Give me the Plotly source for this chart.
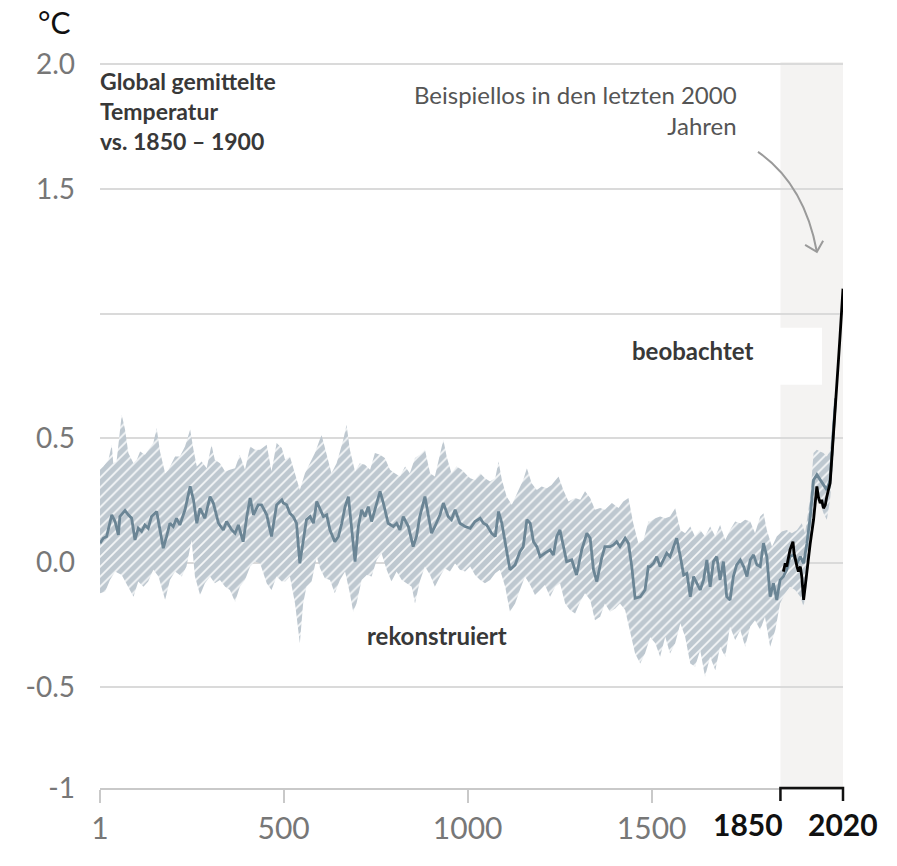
import plotly.graph_objects as go

# ---------------- data ----------------
mean_years = [1, 10, 19, 33, 42, 51, 55, 69, 78, 87, 96, 105, 114, 123, 132, 141, 155, 164, 173, 182,
              191, 200, 209, 218, 232, 246, 255, 264, 273, 286, 300, 309, 323, 336, 345, 359, 368, 377, 390, 400,
              409, 418, 431, 440, 454, 467, 481, 495,
              499, 508, 517, 526, 535, 544, 553, 562, 572, 581, 590, 599, 608, 617, 626, 639, 649, 658, 667, 676,
              685, 694, 703, 712, 721, 730, 739, 753, 762, 771, 784, 798, 807, 816, 825, 839, 852, 861, 870, 884,
              893, 902, 911, 925, 934, 947, 956, 966, 979, 993,
              1007, 1020, 1034, 1043, 1052, 1065, 1075, 1084, 1093, 1102, 1115, 1129, 1142, 1151, 1161, 1170, 1179,
              1188, 1197, 1210, 1224, 1233, 1242, 1251, 1260, 1269, 1283, 1296, 1310, 1324, 1333, 1342, 1351, 1364,
              1373, 1387, 1396, 1405, 1414, 1428, 1437, 1446, 1455, 1469, 1482, 1491,
              1496, 1505, 1514, 1523, 1532, 1541, 1550, 1559, 1568, 1578, 1587, 1596, 1605, 1614, 1623, 1632, 1641,
              1650, 1659, 1668, 1677, 1686, 1695, 1704, 1713, 1722, 1731, 1741, 1750, 1759, 1768, 1777, 1786, 1795,
              1804, 1813, 1822, 1831, 1840, 1849, 1858, 1867, 1876, 1885, 1895, 1904, 1913, 1922, 1931, 1940, 1949,
              1958, 1967, 1976, 1985, 1994, 2000]
mean_vals = [0.078, 0.098, 0.105, 0.192, 0.165, 0.111, 0.185, 0.209, 0.192, 0.178, 0.091, 0.138, 0.125, 0.151,
             0.138, 0.185, 0.205, 0.131, 0.058, 0.105, 0.158, 0.145, 0.178, 0.151, 0.212, 0.306, 0.252, 0.158,
             0.218, 0.178, 0.265, 0.239, 0.158, 0.131, 0.165, 0.131, 0.118, 0.151, 0.084, 0.185, 0.259, 0.192,
             0.232, 0.232, 0.192, 0.105, 0.232, 0.252,
             0.239, 0.232, 0.198, 0.185, 0.158, -0.003, 0.091, 0.172, 0.185, 0.158, 0.245, 0.212, 0.185, 0.192,
             0.131, 0.084, 0.105, 0.158, 0.225, 0.265, 0.131, 0.004, 0.145, 0.212, 0.185, 0.225, 0.165, 0.239,
             0.286, 0.239, 0.158, 0.145, 0.158, 0.131, 0.185, 0.145, 0.064, 0.105, 0.185, 0.265, 0.198, 0.118,
             0.145, 0.192, 0.239, 0.185, 0.172, 0.212, 0.158, 0.145,
             0.138, 0.165, 0.178, 0.158, 0.151, 0.118, 0.105, 0.205, 0.158, 0.078, -0.029, -0.009, 0.044, 0.064,
             0.172, 0.158, 0.084, 0.064, 0.024, 0.038, 0.051, 0.031, 0.105, 0.131, 0.064, 0.004, 0.011, -0.050,
             0.051, 0.118, 0.098, -0.029, -0.076, 0.017, 0.064, 0.064, 0.071, 0.084, 0.064, 0.098, 0.078, -0.016,
             -0.143, -0.137, -0.110, -0.016,
             -0.016, -0.003, 0.024, -0.016, 0.011, 0.038, 0.024, 0.064, 0.098, 0.024, -0.050, -0.043, -0.137,
             -0.056, -0.083, -0.110, -0.070, 0.011, -0.097, 0.004, 0.024, -0.070, 0.004, -0.137, -0.150, -0.056,
             -0.009, 0.011, -0.016, -0.056, 0.011, 0.031, -0.009, -0.016, 0.078, 0.024, -0.137, -0.083, -0.150,
             -0.070, -0.056, -0.029, 0.024, 0.031, -0.003, 0.024, -0.003, 0.078, 0.185, 0.332, 0.353, 0.332,
             0.312, 0.292, 0.332, 0.534, 0.66]

upper_years = [1, 10, 24, 33, 37, 46, 60, 69, 78, 92, 101, 110, 123, 132, 146, 155, 164, 178, 187, 205, 218,
               232, 246, 255, 264, 277, 291, 304, 313, 327, 341, 354, 368, 381, 395, 409, 422, 436, 454, 467,
               481, 495,
               504, 517, 531, 544, 558, 572, 585, 603, 617, 630, 644, 662, 671, 680, 694, 707, 721, 735, 748,
               762, 775, 789, 802, 816, 830, 843, 857, 870, 884, 898, 911, 925, 934, 943, 956, 970, 984, 997,
               1007, 1020, 1034, 1047, 1061, 1075, 1084, 1093, 1106, 1120, 1138, 1151, 1161, 1174, 1188, 1201,
               1215, 1228, 1247, 1260, 1274, 1292, 1306, 1319, 1333, 1346, 1360, 1373, 1392, 1410, 1423, 1437,
               1450, 1464, 1478, 1491,
               1496, 1510, 1523, 1537, 1550, 1564, 1578, 1591, 1605, 1618, 1632, 1645, 1659, 1673, 1686, 1700,
               1713, 1727, 1741, 1754, 1768, 1781, 1795, 1804, 1813, 1827, 1840, 1854, 1867, 1881, 1895, 1908,
               1917, 1931, 1940, 1949, 1958, 1967, 1976, 1985, 1994, 2000]
upper_vals = [0.373, 0.386, 0.413, 0.473, 0.399, 0.406, 0.594, 0.534, 0.440, 0.399, 0.413, 0.446, 0.433,
              0.453, 0.480, 0.540, 0.446, 0.359, 0.373, 0.426, 0.426, 0.466, 0.534, 0.453, 0.386, 0.406, 0.379,
              0.473, 0.413, 0.399, 0.366, 0.373, 0.379, 0.433, 0.373, 0.466, 0.453, 0.453, 0.473, 0.366, 0.480,
              0.460,
              0.413, 0.426, 0.359, 0.292, 0.359, 0.399, 0.440, 0.513, 0.433, 0.359, 0.399, 0.493, 0.554, 0.453,
              0.366, 0.399, 0.393, 0.373, 0.440, 0.433, 0.420, 0.373, 0.359, 0.346, 0.386, 0.359, 0.420, 0.433,
              0.453, 0.359, 0.346, 0.440, 0.493, 0.426, 0.359, 0.386, 0.373, 0.353,
              0.339, 0.332, 0.359, 0.339, 0.326, 0.339, 0.406, 0.332, 0.265, 0.232, 0.292, 0.332, 0.379, 0.319,
              0.292, 0.306, 0.299, 0.312, 0.346, 0.292, 0.245, 0.259, 0.252, 0.286, 0.259, 0.212, 0.219, 0.212,
              0.239, 0.219, 0.245, 0.259, 0.158, 0.078, 0.091, 0.165,
              0.165, 0.178, 0.185, 0.178, 0.185, 0.218, 0.131, 0.118, 0.145, 0.105, 0.131, 0.105, 0.145, 0.105,
              0.151, 0.091, 0.131, 0.165, 0.158, 0.172, 0.165, 0.118, 0.185, 0.198, 0.131, 0.064, 0.105, 0.125,
              0.131, 0.118, 0.131, 0.158, 0.118, 0.265, 0.440, 0.453, 0.446, 0.440, 0.426, 0.453, 0.614, 0.68]

lower_years = [1, 15, 28, 42, 60, 78, 92, 105, 119, 132, 146, 160, 178, 191, 205, 223, 236, 250, 259, 273, 286,
               300, 313, 327, 341, 354, 368, 381, 395, 409, 422, 436, 454, 467, 481, 495,
               504, 517, 531, 544, 553, 562, 576, 590, 599, 612, 626, 639, 653, 667, 680, 689, 698, 712, 726, 739,
               753, 766, 780, 793, 807, 821, 834, 848, 857, 870, 884, 898, 911, 925, 938, 952, 966, 979, 993,
               1007, 1020, 1034, 1047, 1061, 1075, 1088, 1102, 1115, 1129, 1142, 1156, 1170, 1183, 1197, 1210,
               1224, 1238, 1251, 1265, 1278, 1292, 1306, 1319, 1333, 1346, 1360, 1373, 1387, 1401, 1414, 1428,
               1441, 1455, 1469, 1482,
               1496, 1510, 1523, 1537, 1550, 1564, 1578, 1591, 1605, 1618, 1632, 1645, 1659, 1673, 1686, 1700,
               1713, 1727, 1741, 1754, 1768, 1781, 1795, 1808, 1822, 1836, 1849, 1863, 1876, 1890, 1904, 1913,
               1922, 1931, 1940, 1949, 1958, 1967, 1976, 1985, 1994, 2000]
lower_vals = [-0.123, -0.117, -0.070, -0.036, -0.050, -0.097, -0.137, -0.076, -0.097, -0.076, -0.029, -0.056,
              -0.150, -0.070, -0.036, -0.056, -0.016, 0.091, -0.056, -0.130, -0.083, -0.056, -0.083, -0.070,
              -0.097, -0.110, -0.157, -0.097, -0.070, -0.016, 0.004, -0.003, -0.083, -0.110, -0.056, -0.076,
              -0.076, -0.056, -0.164, -0.324, -0.164, -0.097, -0.076, 0.024, -0.023, -0.063, -0.070, -0.123,
              -0.070, -0.036, -0.123, -0.197, -0.164, -0.070, -0.050, -0.056, 0.011, 0.038, -0.029, -0.076,
              -0.036, -0.070, -0.083, -0.097, -0.164, -0.076, -0.016, -0.050, -0.097, -0.056, -0.023, -0.036,
              -0.003, -0.029, -0.036,
              -0.016, -0.050, -0.070, -0.083, -0.070, -0.043, -0.029, -0.097, -0.197, -0.164, -0.110, -0.056,
              -0.090, -0.130, -0.110, -0.090, -0.137, -0.097, -0.083, -0.164, -0.190, -0.204, -0.157, -0.123,
              -0.150, -0.231, -0.217, -0.164, -0.197, -0.184, -0.164, -0.190, -0.271, -0.365, -0.405, -0.365,
              -0.300, -0.324, -0.378, -0.298, -0.365, -0.324, -0.244, -0.298, -0.405, -0.418, -0.351, -0.458,
              -0.378, -0.432, -0.338, -0.378, -0.257, -0.311, -0.271, -0.338, -0.257, -0.231, -0.271, -0.217,
              -0.338, -0.271, -0.164, -0.123, -0.097, -0.110, -0.137, -0.177, -0.083, 0.051, 0.198, 0.252,
              0.239, 0.198, 0.172, 0.252, 0.426, 0.64]

obs_years = [1858, 1863, 1867, 1876, 1884, 1887, 1895, 1899, 1904, 1908, 1913, 1917, 1922, 1931, 1940, 1949,
             1953, 1958, 1962, 1967, 1972, 1976, 1985, 1994, 2001, 2008, 2012, 2020]
obs_vals = [-0.036, -0.003, -0.016, 0.051, 0.084, 0.038, -0.016, -0.036, -0.016, -0.056, -0.150, -0.097,
            -0.029, 0.078, 0.172, 0.306, 0.265, 0.239, 0.252, 0.218, 0.232, 0.265, 0.319, 0.534, 0.66, 0.82,
            0.91, 1.10]

x_range = [1, 2020]
x_tickvals = [1, 500, 1000, 1500]
x_ticktext = ["1", "500", "1000", "1500"]
bold_ticks = [1850, 2020]
bold_ticktext = ["1850", "2020"]
bold_label_shift = [-32, 0]
y_bottom = -0.905   # position of the "-1" baseline on the reference's (compressed) axis
y_top = 2.01
y_tickvals = [2.0, 1.5, 1.0, 0.5, 0.0, -0.5, y_bottom]
y_ticktext = ["2.0", "1.5", "", "0.5", "0.0", "-0.5", "-1"]

# ---------------- figure ----------------
FONT = "Lato, 'Open Sans', sans-serif"
BAND_BG = "#bec8d0"
MEAN_C = "#6b8595"
TEXT_C = "#383838"

fig = go.Figure()

band_x = upper_years + lower_years[::-1]
band_y = upper_vals + lower_vals[::-1]
fig.add_trace(go.Scatter(
    x=band_x, y=band_y, mode="lines", line=dict(width=0, color=BAND_BG),
    fill="toself", fillcolor=BAND_BG,
    fillpattern=dict(shape="/", bgcolor=BAND_BG, fgcolor="white", fgopacity=0.85,
                     size=7, solidity=0.25),
    hoverinfo="skip"))

fig.add_trace(go.Scatter(x=mean_years, y=mean_vals, mode="lines",
                         line=dict(color=MEAN_C, width=2.8), hoverinfo="skip"))

fig.add_trace(go.Scatter(x=obs_years, y=obs_vals, mode="lines",
                         line=dict(color="#000000", width=2.8), hoverinfo="skip"))

# shaded recent period
fig.add_shape(type="rect", xref="x", yref="y domain", x0=bold_ticks[0], x1=bold_ticks[1], y0=0, y1=1,
              fillcolor="#f4f3f2", line=dict(width=0), layer="below")
# white box behind "beobachtet"
fig.add_shape(type="rect", xref="x", yref="y", x0=1428, x1=1963, y0=0.714, y1=0.943,
              fillcolor="white", line=dict(width=0), layer="below")

# black bracket on the axis for 1850-2020 (paper coords so the ticks are not clipped)
def xfrac(v):
    return (v - x_range[0]) / (x_range[1] - x_range[0])

a, b = xfrac(bold_ticks[0]), xfrac(bold_ticks[1])
fig.add_shape(type="path", xref="paper", yref="paper", ysizemode="pixel", yanchor=0,
              path=f"M {a},-13 L {a},0 L {b},0 L {b},-13",
              line=dict(color="#111111", width=2.5))

for v, t, s in zip(bold_ticks, bold_ticktext, bold_label_shift):
    fig.add_annotation(xref="x", yref="paper", x=v, y=0, yshift=-16, xshift=s,
                       text="<b>" + t + "</b>", showarrow=False, xanchor="center", yanchor="top",
                       font=dict(family=FONT, size=30, color="#111111"))

# curved arrow
fig.add_shape(type="path", xref="x", yref="y",
              path="M 1789,1.649 Q 1915,1.52 1949,1.248",
              line=dict(color="#9a9a9a", width=2))
fig.add_shape(type="path", xref="x", yref="y",
              path="M 1917,1.276 L 1949,1.248 L 1966,1.292",
              line=dict(color="#9a9a9a", width=2))

# texts
fig.add_annotation(xref="paper", yref="paper", x=(54 - 100) / 743, y=(788 - 22) / 726, text="°C",
                   showarrow=False, font=dict(family=FONT, size=30, color="#111111"),
                   xanchor="center", yanchor="middle")
title_lines = ["Global gemittelte", "Temperatur", "vs. 1850 – 1900"]
title_py = [81, 111, 141]
for t, py in zip(title_lines, title_py):
    fig.add_annotation(xref="paper", yref="paper", x=(98 - 100) / 743, y=(788 - py) / 726,
                       text="<b>" + t + "</b>", showarrow=False, xanchor="left", yanchor="middle",
                       font=dict(family=FONT, size=23, color=TEXT_C))

fig.add_annotation(xref="x", yref="y", x=1738, y=1.945,
                   text="Beispiellos in den letzten 2000<br>Jahren", showarrow=False,
                   xanchor="right", yanchor="top", align="right",
                   font=dict(family=FONT, size=24, color="#555555"))
fig.add_annotation(xref="x", yref="y", x=1610, y=0.85, text="<b>beobachtet</b>", showarrow=False,
                   font=dict(family=FONT, size=24, color=TEXT_C))
fig.add_annotation(xref="x", yref="y", x=917, y=-0.294, text="<b>rekonstruiert</b>", showarrow=False,
                   font=dict(family=FONT, size=24, color=TEXT_C))

fig.update_layout(
    width=897, height=866,
    margin=dict(l=100, r=54, t=62, b=78),
    paper_bgcolor="white", plot_bgcolor="white",
    showlegend=False,
    xaxis=dict(range=x_range, showgrid=False, zeroline=False, showline=True,
               linecolor="#c9c9c9", linewidth=2, ticks="outside", ticklen=13, tickwidth=2,
               tickcolor="#c9c9c9", tickvals=x_tickvals, ticktext=x_ticktext,
               tickfont=dict(family=FONT, size=30, color="#777777")),
    yaxis=dict(range=[y_bottom, y_top], showgrid=True, gridcolor="#dadada", gridwidth=2,
               zeroline=False, ticks="", tickvals=y_tickvals, ticktext=y_ticktext,
               ticklabelstandoff=24,
               tickfont=dict(family=FONT, size=28, color="#777777")),
)

fig.write_html("out.html")
